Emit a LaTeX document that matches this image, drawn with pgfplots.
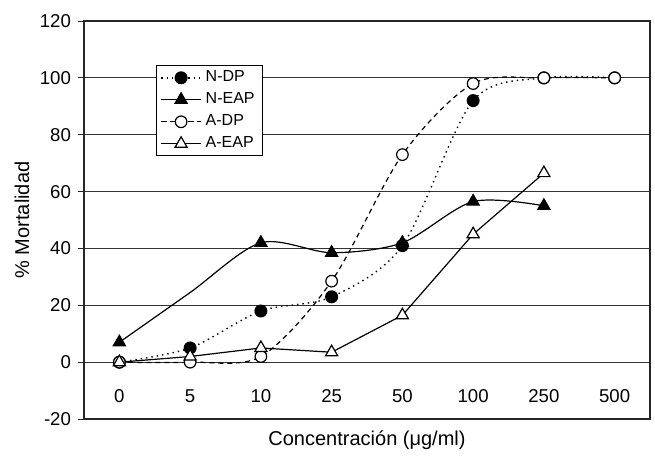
\documentclass[border=0pt]{standalone}
\usepackage{fontspec}
\setmainfont{Liberation Sans}
\usepackage{pgfplots}
\pgfplotsset{compat=1.18}

\begin{document}
\begin{tikzpicture}
  \begin{axis}[
      width = 283pt, height = 199pt, scale only axis,
      xmin = -0.5, xmax = 7.5,
      ymin = -20, ymax = 120,
      xtick = {0,...,7},
      xticklabels = {0,5,10,25,50,100,250,500},
      ytick = {-20,0,20,40,60,80,100,120},
      ymajorgrids,
      grid style = {black!80, line width=0.5pt},
      axis line style = {black!85, line width=0.6pt},
      tick align = outside, ytick pos = left,
      xtick style = {draw=none},
      ytick style = {black!85, line width=0.5pt},
      major tick length = 3pt,
      /pgf/number format/assume math mode=true,
      ticklabel style = {font=\fontsize{9.3}{11}\selectfont},
      xticklabel style = {anchor=center, yshift=14.5pt},
      xlabel = {Concentración (μg/ml)},
      ylabel = {\% Mortalidad},
      label style = {font=\fontsize{10}{12}\selectfont},
      xlabel style = {at={(rel axis cs:0.5,-0.053)}, anchor=center},
      ylabel style = {at={(rel axis cs:-0.1095,0.5)}, anchor=center},
      legend style = {at={(rel axis cs:0.127,0.889)}, anchor=north west,
                      font=\fontsize{8}{9}\selectfont,
                      draw=black, fill=white, line width=0.6pt,
                      inner xsep=2pt, inner ysep=0.5pt},
      legend cell align = left,
      legend image code/.code={
        \draw[mark repeat=2, mark phase=2]
          plot coordinates {(0cm,0cm) (0.35cm,0cm) (0.7cm,0cm)};},
      clip = false,
    ]
    % N-DP
    \addplot[black, line width=0.7pt, dotted, smooth, mark=*, mark size=2.9pt,
             mark options={solid, fill=black}]
      coordinates {(0,0)(1,5)(2,18)(3,23)(4,41)(5,92)(6,100)(7,100)};
    \addlegendentry{N-DP}
    % N-EAP (no marker at 5)
    \addplot[black, line width=0.6pt, smooth, mark=triangle*, mark size=3.5pt,
             mark options={solid, fill=black}, mark indices={1,3,4,5,6,7},
             legend image post style={mark indices={2}}]
      coordinates {(0,7)(1,24.5)(2,42)(3,38.5)(4,42)(5,56.5)(6,55)};
    \addlegendentry{N-EAP}
    % A-DP
    \addplot[black, line width=0.6pt, dash pattern=on 2.5pt off 2pt, smooth,
             mark=*, mark size=2.9pt, mark options={solid, fill=white}]
      coordinates {(0,0)(1,0)(2,2)(3,28.5)(4,73)(5,98)(6,100)(7,100)};
    \addlegendentry{A-DP}
    % A-EAP
    \addplot[black, line width=0.6pt, mark=triangle*, mark size=3.5pt,
             mark options={solid, fill=white}]
      coordinates {(0,0)(1,2)(2,5)(3,3.5)(4,16.5)(5,45)(6,66.5)};
    \addlegendentry{A-EAP}
    % page margins as in the reference
    \path (rel axis cs:-0.1484,-0.0955) rectangle (rel axis cs:1.0088,1.0528);
  \end{axis}
\end{tikzpicture}
\end{document}
